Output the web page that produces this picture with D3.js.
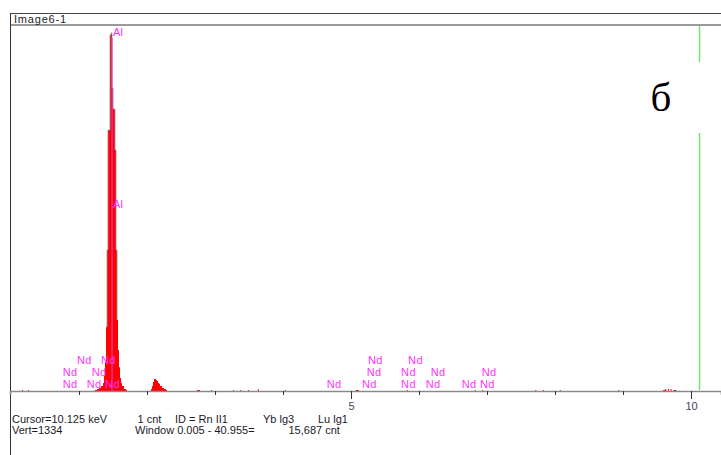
<!DOCTYPE html>
<html>
<head>
<meta charset="utf-8">
<script src="https://cdn.jsdelivr.net/npm/d3@7"></script>
<style>
  html, body { margin: 0; padding: 0; background: #fff; }
  svg { display: block; font-family: "Liberation Sans", Arial, sans-serif; }
</style>
</head>
<body>
<div id="chart"></div>
<script>
// spectrum: energy (keV) and counts per channel
const specKeV = [0.162, 0.250,
  1.235, 1.265, 1.294, 1.324, 1.353, 1.368, 1.382, 1.397, 1.412, 1.426, 1.441, 1.456,
  1.471, 1.485, 1.500, 1.515, 1.529, 1.544, 1.559, 1.574, 1.588, 1.603, 1.618, 1.632,
  1.662, 1.691,
  2.059, 2.074, 2.088, 2.103, 2.118, 2.132, 2.147, 2.162, 2.176, 2.191, 2.221, 2.250, 2.279,
  2.735, 2.765, 2.940, 3.265, 3.370, 3.485, 3.630, 4.030, 5.070, 5.100, 5.820, 6.820,
  6.930, 7.710, 7.820, 8.070, 8.930,
  9.590, 9.620, 9.660, 9.700, 9.740, 9.770];
const specCnt = [4, 4,
  4, 7, 11, 18, 29, 55, 106, 233, 514, 951, 951, 1298,
  1305, 1104, 1028, 1028, 878, 514, 259, 149, 87, 47, 29, 18,
  7, 4,
  7, 18, 33, 44, 44, 40, 36, 29, 26, 18, 11, 7, 4,
  4, 4, 4, 4, 4, 4, 6, 4, 4, 4, 4, 4,
  4, 4, 4, 4, 4,
  4, 7, 7, 7, 4, 4];

// element markers: energy and marker height (counts)
const alKeV = [1.486, 1.486];
const alCnt = [1294, 667];
const ndKeV = [0.956, 1.309, 5.235, 5.824,
  0.746, 1.172, 5.216, 5.721, 6.157, 6.907,
  0.746, 1.099, 1.368, 4.628, 5.147, 5.721, 6.084, 6.613, 6.882];
const ndCnt = [98, 98, 98, 98,
  55, 55, 55, 55, 55, 55,
  11, 11, 11, 11, 11, 11, 11, 11, 11];

const tickKeV = [1, 2, 3, 4, 5, 6, 7, 8, 9, 10];
const labeledKeV = [5, 10];
const cursorKeV = 10.125;
const vertScale = 1334;

const title = "Image6-1";
// status bar pieces and their left edges
const statusTop = [
  ["Cursor=10.125 keV", 12], ["1 cnt", 137.5], ["ID = Rn II1", 175],
  ["Yb lg3", 263], ["Lu lg1", 318]
];
const statusBottom = [
  ["Vert=1334", 12], ["Window 0.005 - 40.955=", 135], ["15,687 cnt", 288.5]
];

const W = 721, H = 455;
const svg = d3.select("#chart").append("svg")
  .attr("width", W)
  .attr("height", H);

const x = d3.scaleLinear().domain([-0.015, 10.441]).range([10, 721]);
const y = d3.scaleLinear().domain([0, vertScale]).range([391, 25]);
const chan = 1 / 68;

// frame and title bar
svg.append("line").attr("x1", 10).attr("x2", W).attr("y1", 13.5).attr("y2", 13.5)
  .attr("stroke", "#444").attr("stroke-width", 1);
svg.append("line").attr("x1", 10.5).attr("x2", 10.5).attr("y1", 13).attr("y2", H)
  .attr("stroke", "#333").attr("stroke-width", 1);
svg.append("line").attr("x1", 11).attr("x2", W).attr("y1", 25).attr("y2", 25)
  .attr("stroke", "#9a9a9a").attr("stroke-width", 2);
svg.append("text").attr("x", 14).attr("y", 23)
  .attr("font-size", 11).attr("letter-spacing", 0.8).attr("fill", "#222")
  .text(title);

// spectrum as stepped area, zero-padded where channels are not adjacent
const pts = [];
specKeV.forEach((e, i) => {
  pts.push({ e: e, c: specCnt[i] });
  const next = specKeV[i + 1];
  if (next === undefined || next - e > chan * 2.5) pts.push({ e: e + chan, c: 0 });
});

svg.append("path")
  .datum(pts)
  .attr("fill", "#ff0000")
  .attr("d", d3.area().curve(d3.curveStepAfter)
    .x(d => x(d.e)).y0(y(0)).y1(d => y(d.c)));

// gray outline on the main peak
svg.append("path")
  .datum(pts.filter(d => d.e > 1.39 && d.e < 1.56))
  .attr("fill", "none")
  .attr("stroke", "#8c8c8c")
  .attr("stroke-width", 0.8)
  .attr("d", d3.line().curve(d3.curveStepAfter).x(d => x(d.e)).y(d => y(d.c)));

// Al marker line
svg.append("line")
  .attr("x1", x(alKeV[0])).attr("x2", x(alKeV[0]))
  .attr("y1", y(alCnt[0]) + 2).attr("y2", y(0))
  .attr("stroke", "#e040e0").attr("stroke-width", 1);

const markerColor = "#ff33ff";
svg.append("g").selectAll("text")
  .data(alKeV.map((e, i) => ({ e: e, c: alCnt[i] })))
  .join("text")
  .attr("x", d => x(d.e) + 1)
  .attr("y", d => y(d.c))
  .attr("font-size", 11)
  .attr("fill", markerColor)
  .text("Al");

svg.append("g").selectAll("text")
  .data(ndKeV.map((e, i) => ({ e: e, c: ndCnt[i] })))
  .join("text")
  .attr("x", d => x(d.e) + 1)
  .attr("y", d => y(d.c))
  .attr("font-size", 11)
  .attr("letter-spacing", 0.4)
  .attr("fill", markerColor)
  .text("Nd");

// energy axis
const axis = svg.append("g")
  .attr("transform", "translate(0," + y(0) + ")")
  .call(d3.axisBottom(x)
    .tickValues(tickKeV)
    .tickSizeOuter(0)
    .tickSize(4)
    .tickPadding(3)
    .tickFormat(d => labeledKeV.includes(d) ? d : ""));
axis.select(".domain").attr("stroke", "#8a8a8a").attr("stroke-width", 1.6);
axis.selectAll(".tick line").attr("stroke", "#333")
  .attr("y2", d => labeledKeV.includes(d) ? 8 : 4);
axis.selectAll(".tick text")
  .attr("y", 11)
  .attr("font-size", 11)
  .attr("font-family", "Liberation Sans, Arial, sans-serif")
  .attr("fill", "#4a4060");

// cursor line
svg.append("line")
  .attr("x1", x(cursorKeV)).attr("x2", x(cursorKeV))
  .attr("y1", 26).attr("y2", y(0) - 1)
  .attr("stroke", "#77e077").attr("stroke-width", 1.5);

// panel letter on a white box
svg.append("rect").attr("x", 630).attr("y", 62).attr("width", 80).attr("height", 71)
  .attr("fill", "#fff");
svg.append("text").attr("x", 661).attr("y", 111)
  .attr("text-anchor", "middle")
  .attr("font-family", "Liberation Serif, Times New Roman, serif")
  .attr("font-size", 41)
  .attr("fill", "#000")
  .text("б");

// status lines
const status = svg.append("g").attr("font-size", 11).attr("fill", "#1a1a2a");
[statusTop, statusBottom].forEach((row, i) => {
  row.forEach(s => {
    status.append("text")
      .attr("x", s[1]).attr("y", 423 + i * 11)
      .text(s[0]);
  });
});
</script>
</body>
</html>
